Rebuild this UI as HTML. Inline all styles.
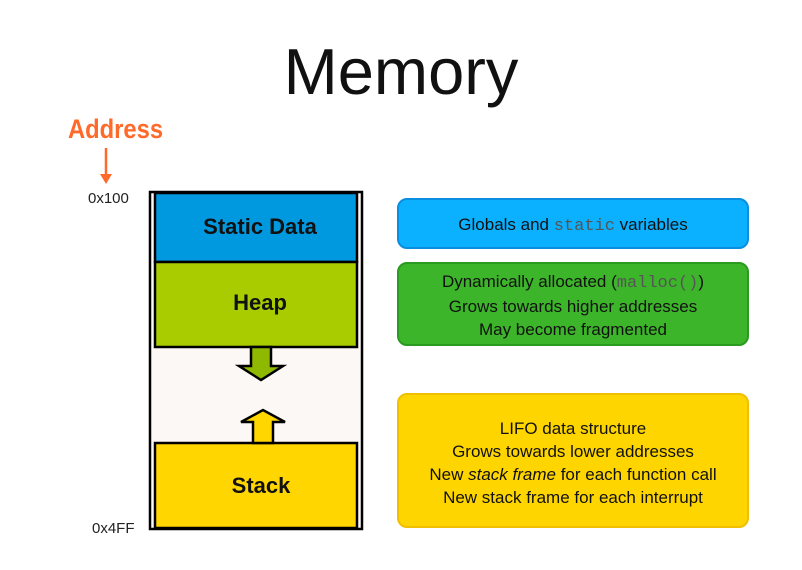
<!DOCTYPE html>
<html><head><style>
body{margin:0;width:802px;height:570px;background:#fff;position:relative;overflow:hidden;font-family:"Liberation Sans",sans-serif}
.t{position:absolute;white-space:nowrap}
.box{position:absolute;left:397px;width:352px;border-radius:10px;text-align:center;font-size:17px;color:#111;line-height:23px;box-sizing:border-box}
.mono{font-family:"Liberation Mono",monospace;color:#555}
</style></head><body>
<div class="t" style="left:0;width:802px;text-align:center;top:34px;font-size:65px;color:#111">Memory</div>
<div class="t" style="left:68px;top:114px;font-size:27px;font-weight:bold;color:#ff6a2a;transform:scaleX(0.88);transform-origin:left">Address</div>
<svg width="802" height="570" style="position:absolute;left:0;top:0">
<line x1="106" y1="148" x2="106" y2="176" stroke="#ff6a2a" stroke-width="2.5"/>
<polygon points="100,174 112,174 106,184" fill="#ff6a2a"/>
<rect x="150" y="192" width="212" height="337" fill="#fcf8f6" stroke="#000" stroke-width="2.5"/>
<rect x="155" y="193" width="202" height="69" fill="#0099e0" stroke="#000" stroke-width="2.5"/>
<rect x="155" y="262" width="202" height="85" fill="#a8cc00" stroke="#000" stroke-width="2.5"/>
<polygon points="251,347 271,347 271,366 283,366 261,380 239,366 251,366" fill="#8fb800" stroke="#000" stroke-width="2.5"/>
<rect x="155" y="443" width="202" height="85" fill="#ffd600" stroke="#000" stroke-width="2.5"/>
<polygon points="253,443 273,443 273,422 285,422 263,410 241,422 253,422" fill="#ffd600" stroke="#000" stroke-width="2.5"/>
</svg>
<div class="t" style="left:88px;top:190px;font-size:15px;color:#222">0x100</div>
<div class="t" style="left:92px;top:520px;font-size:15px;color:#222">0x4FF</div>
<div class="t" style="left:155px;width:210px;text-align:center;top:214px;font-size:22px;font-weight:bold;color:#111">Static Data</div>
<div class="t" style="left:155px;width:210px;text-align:center;top:290px;font-size:22px;font-weight:bold;color:#111">Heap</div>
<div class="t" style="left:155px;width:212px;text-align:center;top:473px;font-size:22px;font-weight:bold;color:#111">Stack</div>
<div class="box" style="top:198px;height:51px;background:#0bb0ff;border:2px solid #0a8ee0;padding-top:13px">Globals and <span class="mono">static</span> variables</div>
<div class="box" style="top:262px;height:84px;background:#3db52a;border:2px solid #2a9a20;padding-top:6px">Dynamically allocated (<span class="mono">malloc()</span>)<br>Grows towards higher addresses<br>May become fragmented</div>
<div class="box" style="top:393px;height:135px;background:#ffd500;border:2px solid #f0c000;padding-top:22px">LIFO data structure<br>Grows towards lower addresses<br>New <i>stack frame</i> for each function call<br>New stack frame for each interrupt</div>
</body></html>
